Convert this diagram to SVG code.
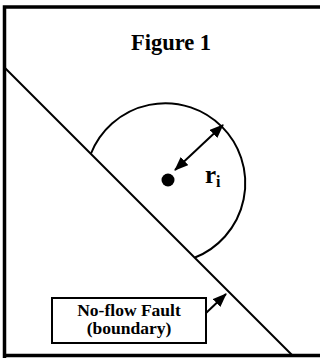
<svg xmlns="http://www.w3.org/2000/svg" width="320" height="358" viewBox="0 0 320 358">
<defs>
<style>
.t{font-family:"Liberation Serif","Times New Roman",serif;font-weight:bold;fill:#000}
.ln{stroke:#000;fill:none;stroke-width:2}
</style>
<marker id="ah" viewBox="0 0 14 11" refX="13" refY="5.5" markerWidth="7" markerHeight="5.5" orient="auto-start-reverse" markerUnits="strokeWidth">
<path d="M0,0 L14,5.5 L0,11 z" fill="#000"/>
</marker>
</defs>
<rect width="320" height="358" fill="#fff"/>
<g id="frame">
<path d="M4.5,358 V7 H320 M3,355.5 H320" stroke="#000" stroke-width="3.5" fill="none"/>
</g>
<g id="title"><text class="t" x="171" y="50" font-size="22.5" text-anchor="middle">Figure 1</text></g>
<g id="fault"><line class="ln" x1="5" y1="68" x2="292" y2="355"/></g>
<g id="region"><path class="ln" d="M91,153.5 A80,80 0 1 1 195,257.5"/></g>
<g id="well"><circle cx="168" cy="180" r="6.5" fill="#000"/></g>
<g id="label-ri"><text class="t" x="205" y="183" font-size="25">r<tspan font-size="16" dy="4">i</tspan></text></g>
<g id="label-box">
<rect x="52" y="298" width="154" height="45" fill="#fff" stroke="#000" stroke-width="2"/>
<text class="t" x="129" y="316" font-size="17.5" text-anchor="middle">No-flow Fault</text>
<text class="t" x="129" y="334" font-size="17.5" text-anchor="middle">(boundary)</text>
</g>
<g id="connectors">
<line class="ln" x1="175" y1="170" x2="223" y2="125" marker-start="url(#ah)" marker-end="url(#ah)"/>
<line class="ln" x1="206" y1="313" x2="226" y2="294" marker-end="url(#ah)"/>
</g>
</svg>
